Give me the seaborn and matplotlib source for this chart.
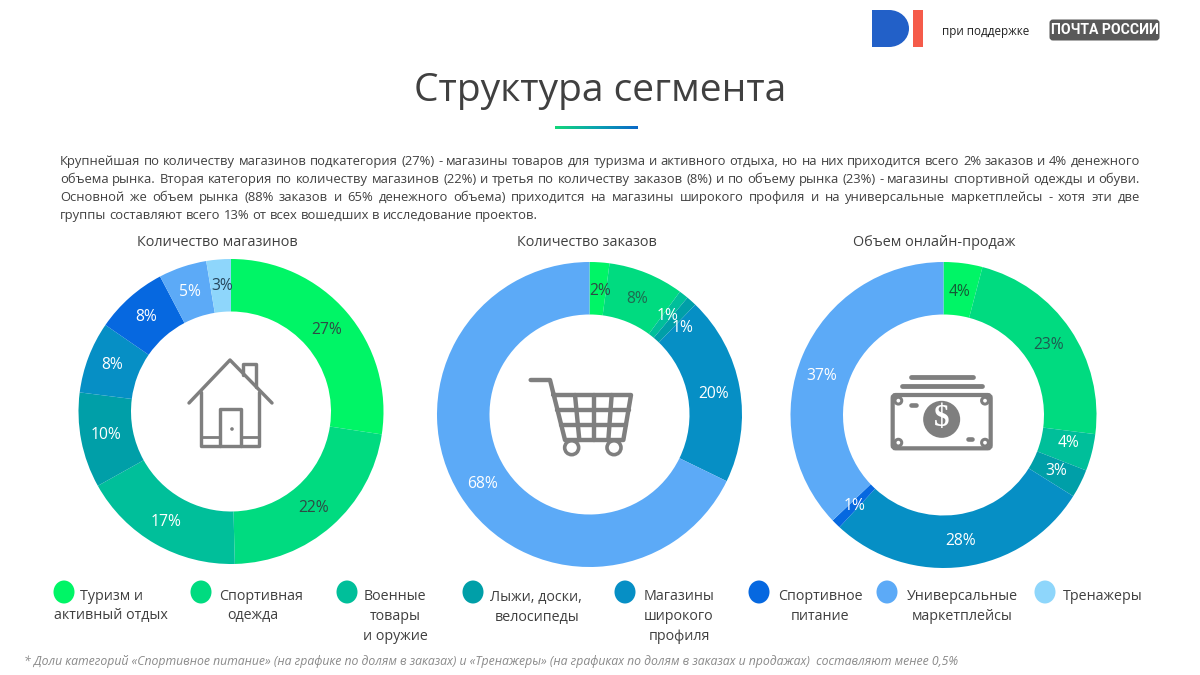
import numpy as np
import matplotlib
matplotlib.use("Agg")
import matplotlib.pyplot as plt
from matplotlib.patches import Circle, Ellipse, FancyBboxPatch, PathPatch, Rectangle
from matplotlib.path import Path
from matplotlib.colors import LinearSegmentedColormap
import seaborn as sns

# ---------- data ----------
categories = ["Туризм и активный отдых", "Спортивная одежда", "Военные товары и оружие",
              "Лыжи, доски, велосипеды", "Магазины широкого профиля", "Спортивное питание",
              "Универсальные маркетплейсы", "Тренажеры"]
shops = [27.4, 22.2, 17.3, 10.1, 7.6, 7.7, 5.1, 2.6]
orders = [2.1, 8.0, 1.0, 1.1, 20.0, 0, 67.8, 0]
sales = [4.1, 22.9, 3.9, 3.0, 28.0, 1.0, 37.1, 0]
chart_titles = ["Количество магазинов", "Количество заказов", "Объем онлайн-продаж"]
hex_colors = ["#00F566", "#00DB80", "#00BF9A", "#009FA8", "#068FC5", "#0668E0", "#5CAAF7", "#8ED6FB"]

title = "Структура сегмента"
paragraph = [
    "Крупнейшая по количеству магазинов подкатегория (27%) - магазины товаров для туризма и активного отдыха, но на них приходится всего 2% заказов и 4% денежного",
    "объема рынка. Вторая категория по количеству магазинов (22%) и третья по количеству заказов (8%) и по объему рынка (23%) - магазины спортивной одежды и обуви.",
    "Основной же объем рынка (88% заказов и 65% денежного объема) приходится на магазины широкого профиля и на универсальные маркетплейсы - хотя эти две",
    "группы составляют всего 13% от всех вошедших в исследование проектов.",
]
footnote = "* Доли категорий «Спортивное питание» (на графике по долям в заказах) и «Тренажеры» (на графиках по долям в заказах и продажах)  составляют менее 0,5%"

# ---------- style ----------
sns.set_theme(style="white")
plt.rcParams["font.family"] = ["Open Sans", "DejaVu Sans"]
palette = sns.color_palette(hex_colors)
TXT = "#404040"
GRAY = "#7F7F7F"
PX = 0.72  # pt per px at dpi 100

fig = plt.figure(figsize=(12, 6.75), dpi=100, facecolor="white")

# ---------- donuts ----------
DARK, WHITE = "#2f4a45", "#ffffff"
specs = [
    (shops, 231, 411.5, 152.5, [DARK, DARK, WHITE, WHITE, WHITE, WHITE, WHITE, "#26465c"],
     {4: (-1, -2), 5: (-1, 0), 6: (-1, 0), 7: (1, 0), 2: (-3, 1), 3: (-1, 0), 1: (-1, 2)}),
    (orders, 589.5, 414.5, 152.5, ["#2f4a45", "#1f6a50", WHITE, WHITE, WHITE, WHITE, WHITE, WHITE],
     {0: (2, 2), 1: (1, 1), 2: (0, 1), 3: (9, 7), 4: (0, 2), 6: (0, 3)}),
    (sales, 943.5, 415, 153, ["#155a35", "#1f5a50", WHITE, WHITE, WHITE, WHITE, WHITE, WHITE],
     {0: (0, 2), 1: (1, 0), 3: (0, 0), 2: (3, -3), 6: (-6, 11)}),
]
for values, cx, cy, r, label_cols, shifts in specs:
    ax = fig.add_axes([(cx - r) / 1200, 1 - (cy + r) / 675, 2 * r / 1200, 2 * r / 675])
    wedges, _, autotexts = ax.pie(
        values, colors=palette, startangle=90, counterclock=False, radius=1,
        wedgeprops=dict(width=52.5 / r, linewidth=0, clip_on=False),
        autopct=lambda p: f"{p:.0f}%" if p > 0.01 else "",
        pctdistance=126 / r, textprops=dict(fontsize=15.6 * PX),
    )
    ax.set_xlim(-1, 1)
    ax.set_ylim(-1, 1)
    for i, t in enumerate(autotexts):
        t.set_color(label_cols[i])
        x, y = t.get_position()
        dx, dy = shifts.get(i, (0, 1))
        t.set_position((x + dx / r, y - dy / r))

# ---------- overlay in pixel coordinates ----------
ov = fig.add_axes([0, 0, 1, 1], zorder=5)
ov.set_xlim(0, 1200)
ov.set_ylim(675, 0)
ov.axis("off")
ov.patch.set_alpha(0)

def txt(x, y, s, size, color=TXT, ha="center", **kw):
    return ov.text(x, y, s, fontsize=size * PX, color=color, ha=ha, va="center", **kw)

txt(600, 90.5, title, 39)

cmap = LinearSegmentedColormap.from_list("u", ["#14D67A", "#0AA3B0", "#0A68C8"])
ov.imshow(np.linspace(0, 1, 200).reshape(1, -1), extent=(555, 638, 129.5, 127), cmap=cmap, aspect="auto", zorder=2)
ov.set_xlim(0, 1200)
ov.set_ylim(675, 0)

# justified paragraph: advance widths measured between guard bars
renderer = fig.canvas.get_renderer()
LEFT, RIGHT = 60, 1140
P_SIZE = 13.0

def advance(word):
    a = txt(0, 0, "|" + word + "|", P_SIZE)
    b = txt(0, 0, "||", P_SIZE)
    w = a.get_window_extent(renderer).width - b.get_window_extent(renderer).width
    a.remove()
    b.remove()
    return w

for k, line in enumerate(paragraph):
    y = 161.5 + k * 18.1
    words = line.split(" ")
    widths = [advance(w) for w in words]
    if k < len(paragraph) - 1:
        gap = (RIGHT - LEFT - sum(widths)) / (len(words) - 1)
    else:
        gap = 3.2
    x = LEFT
    for w, adv in zip(words, widths):
        txt(x, y, w, P_SIZE, ha="left")
        x += adv + gap

for (x, y), s in zip([(217, 242.5), (587, 242.5), (934, 243)], chart_titles):
    txt(x, y, s, 14.4)

# legend
circle_x = [64, 201, 347, 473, 625, 759, 887, 1045]
for x, c in zip(circle_x, palette):
    ov.add_patch(Ellipse((x, 592), 21, 23, fc=c, ec="none"))
legend_lines = [
    (111, 597, "Туризм и"), (111, 616, "активный отдых"),
    (261, 597, "Спортивная"), (253, 616, "одежда"),
    (395, 597, "Военные"), (395, 617, "товары"), (395, 637, "и оружие"),
    (536, 597, "Лыжи, доски,"), (537, 617, "велосипеды"),
    (679, 597, "Магазины"), (679, 617, "широкого"), (679, 637, "профиля"),
    (820, 597, "Спортивное"), (820, 617, "питание"),
    (962, 597, "Универсальные"), (962, 617, "маркетплейсы"),
    (1103, 597, "Тренажеры"),
]
for x, y, s in legend_lines:
    txt(x, y, s, 14.3)

txt(24, 661, footnote, 12.28, color="#8a8a8a", ha="left", style="italic")

# header logos
d = Path([(872, 10), (889, 10), (900, 10), (909, 18), (909, 28.5), (909, 39), (900, 47), (889, 47), (872, 47), (872, 10)],
         [Path.MOVETO, Path.LINETO, Path.CURVE4, Path.CURVE4, Path.CURVE4, Path.CURVE4, Path.CURVE4, Path.CURVE4, Path.LINETO, Path.CLOSEPOLY])
ov.add_patch(PathPatch(d, fc="#2260C8", ec="none"))
ov.add_patch(Rectangle((913, 10), 9.5, 37, fc="#F55B4A", ec="none"))
txt(985.5, 31, "при поддержке", 11.6, color="#222222")
ov.add_patch(FancyBboxPatch((1051, 21), 107, 18, boxstyle="round,pad=0,rounding_size=2", fc="#595959", ec="#595959", lw=3 * PX))
ov.text(1104.5, 30.5, "ПОЧТА РОССИИ", fontsize=14 * PX, color="white", ha="center", va="center",
        family=["Roboto", "DejaVu Sans"], weight="bold")

def poly(pts, lw=3.0):
    xs, ys = zip(*pts)
    ov.plot(xs, ys, color=GRAY, lw=lw * PX, solid_capstyle="round", solid_joinstyle="round")

# house icon
poly([(189, 403), (230, 360), (272, 403)], 3.4)
poly([(201, 392), (201, 446), (259, 446), (259, 392)], 3.4)
poly([(243, 375), (243, 364), (256, 364), (256, 387)], 3.4)
poly([(220, 446), (220, 409), (241, 409), (241, 446)], 3.4)
poly([(201, 437), (220, 437)], 2.8)
poly([(241, 437), (259, 437)], 2.8)
ov.add_patch(Circle((232, 429), 1.8, fc=GRAY, ec="none"))

# cart icon
def cp(px, py):
    return (520 + px / 3, 360 + py / 3)
poly([cp(32, 60), cp(90, 60), cp(135, 240), cp(310, 240), cp(333, 105), cp(100, 105)], 4.4)
poly([cp(112, 150), cp(326, 150)], 4.4)
poly([cp(122, 195), cp(318, 195)], 4.4)
poly([cp(165, 105), cp(178, 240)], 4.4)
poly([cp(222, 105), cp(222, 240)], 4.4)
poly([cp(275, 105), cp(265, 240)], 4.4)
for wx in (155, 282):
    ov.add_patch(Circle(cp(wx, 263), 7, fc="white", ec=GRAY, lw=3.6 * PX))

# money icon
def mp(px, py):
    return (880 + px / 3, 360 + py / 3)
poly([mp(92, 50), mp(278, 50)], 4.8)
poly([mp(65, 78), mp(305, 78)], 4.8)
x0, y0 = mp(38, 105)
x1, y1 = mp(332, 265)
ov.add_patch(FancyBboxPatch((x0, y0), x1 - x0, y1 - y0, boxstyle="round,pad=0,rounding_size=3",
                            fc="white", ec=GRAY, lw=4.2 * PX))
for q in [(55, 122), (315, 122), (55, 248), (315, 248)]:
    ov.add_patch(Circle(mp(*q), 3.4, fc="white", ec=GRAY, lw=3.0 * PX))
poly([mp(94, 135), mp(107, 135)], 4.6)
poly([mp(263, 236), mp(276, 236)], 4.6)
ov.add_patch(Circle(mp(185, 178), 18.5, fc=GRAY, ec="none"))
ov.text(*mp(185, 176), "$", fontsize=31 * PX, color="white", ha="center", va="center",
        family=["Liberation Serif", "DejaVu Serif"], weight="bold")

fig.savefig("out.png", dpi=100, facecolor="white")
